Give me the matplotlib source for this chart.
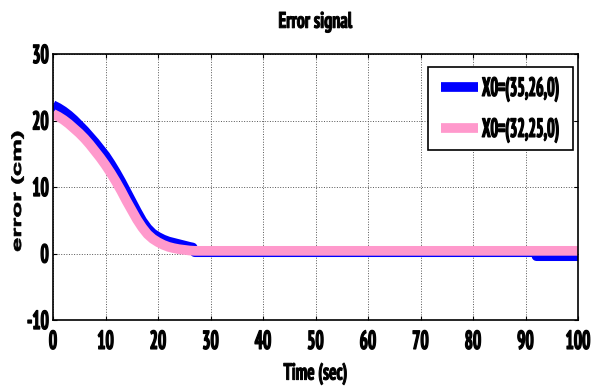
import numpy as np
import matplotlib
matplotlib.use('Agg')
import matplotlib.pyplot as plt
from matplotlib.patheffects import AbstractPathEffect
from matplotlib.transforms import Affine2D

plt.rcParams['axes.unicode_minus'] = False

# curve values
t_blue = [0, 1, 2, 3, 4, 5, 6, 7, 8, 9, 10, 11, 12, 13, 14, 15, 16, 17, 18, 19, 20,
          21, 22, 23, 24, 25, 26, 26.6, 27, 40, 60, 80, 92, 92.1, 100]
e_blue = [22.3, 21.9, 21.4, 20.8, 20.1, 19.3, 18.5, 17.6, 16.7, 15.7, 14.7, 13.5, 12.2, 10.8, 9.3, 7.8, 6.3, 4.9, 3.8, 3.0, 2.5,
          2.1, 1.8, 1.6, 1.4, 1.2, 1.0, 0.9, 0.2, 0.2, 0.2, 0.2, 0.2, -0.4, -0.4]
t_pink = [0, 1, 2, 3, 4, 5, 6, 7, 8, 9, 10, 11, 12, 13, 14, 15, 16, 17, 18, 19, 20,
          21, 22, 23, 24, 25, 26, 27, 40, 60, 80, 100]
e_pink = [21.0, 20.6, 20.1, 19.5, 18.8, 18.1, 17.3, 16.4, 15.4, 14.4, 13.3, 12.1, 10.8, 9.4, 7.9, 6.5, 5.1, 3.9, 2.9, 2.2, 1.7,
          1.3, 1.0, 0.8, 0.65, 0.55, 0.45, 0.4, 0.4, 0.4, 0.4, 0.4]
labels = ['X0=(35,26,0)', 'X0=(32,25,0)']
x_ticks = list(range(0, 101, 10))
y_ticks = [-10, 0, 10, 20, 30]

narrow = ['PT Sans Narrow', 'DejaVu Sans']


class Stretch(AbstractPathEffect):
    # scale glyph paths in text-local coords (the reference text is tall and heavy)
    def __init__(self, sx=1.0, sy=1.0, cy=35.0, lw=0.0):
        super().__init__()
        self.sx, self.sy, self.cy, self.lw = sx, sy, cy, lw

    def draw_path(self, renderer, gc, tpath, affine, rgbFace=None):
        st = Affine2D().translate(0, -self.cy).scale(self.sx, self.sy).translate(0, self.cy)
        gc0 = renderer.new_gc()
        gc0.copy_properties(gc)
        if self.lw > 0 and rgbFace is not None:
            gc0.set_linewidth(self.lw)
            gc0.set_foreground(rgbFace)
        renderer.draw_path(gc0, tpath, st + affine, rgbFace)
        gc0.restore()


fig = plt.figure(figsize=(5.92, 3.92), dpi=100)
ax = fig.add_axes([53 / 592, 1 - 320 / 392, 525 / 592, 266 / 392])

ax.plot(t_blue, e_blue, color='#0000ff', lw=7, label=labels[0], solid_capstyle='butt')
ax.plot(t_pink, e_pink, color='#ff99cc', lw=7, label=labels[1], solid_capstyle='butt')

ax.set_xlim(0, 100)
ax.set_ylim(-10, 30)
ax.set_xticks(x_ticks)
ax.set_yticks(y_ticks)
ax.grid(True, color='#555555', linestyle=':', linewidth=0.7)
ax.tick_params(direction='in', top=True, right=True, length=3, width=0.8)
ax.tick_params(axis='x', pad=10)
ax.tick_params(axis='y', pad=3)
for s in ax.spines.values():
    s.set_linewidth(1.2)

for lab in ax.get_xticklabels() + ax.get_yticklabels():
    lab.set_fontfamily(narrow)
    lab.set_fontweight('bold')
    lab.set_fontsize(12.5)
    lab.set_path_effects([Stretch(1, 1.5, lw=0.9)])

ax.set_xlabel('Time (sec)', family=narrow, weight='bold', size=12.5, labelpad=11,
              path_effects=[Stretch(1, 1.35, lw=0.7)])
ax.set_title('Error signal', family=narrow, weight='bold', size=13, pad=20,
             path_effects=[Stretch(1, 1.25, lw=0.7)])
# y label: normal width bold face, drawn long along the axis
fig.text(18 / 592, 1 - 252 / 392, 'error (cm)', rotation=90, ha='center', va='bottom',
         family=['Liberation Sans', 'DejaVu Sans'], weight='bold', size=9.5,
         path_effects=[Stretch(1.95, 1.0, 0, lw=0.5)])

lg = ax.legend(loc='upper right', bbox_to_anchor=(0.990, 0.95), borderaxespad=0,
               fancybox=False, framealpha=1, edgecolor='black', handlelength=2.3,
               handletextpad=0.25, borderpad=0.85, labelspacing=1.65,
               prop=dict(family=narrow, weight='bold', size=11.5))
lg.get_frame().set_linewidth(1.2)
for txt in lg.get_texts():
    txt.set_path_effects([Stretch(1, 1.65, lw=0.9)])

fig.savefig('out.png', dpi=100)
